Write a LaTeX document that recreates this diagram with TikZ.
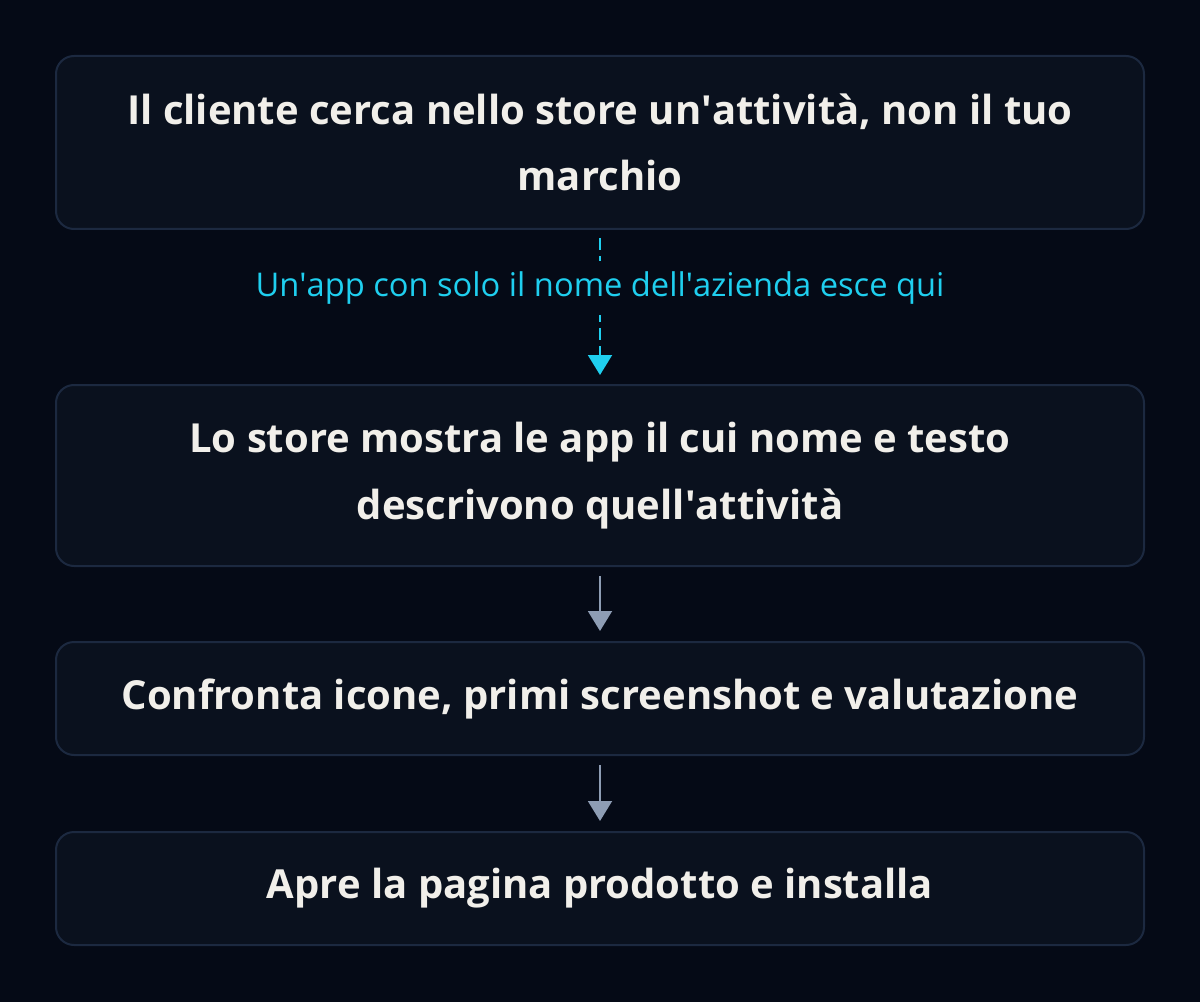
\documentclass[tikz,border=0pt]{standalone}
\usepackage{fontspec}
\setmainfont{Open Sans}
\usetikzlibrary{arrows.meta}
\definecolor{bgcol}{HTML}{050A16}
\definecolor{boxfill}{HTML}{0A111E}
\definecolor{boxline}{HTML}{1C2940}
\definecolor{txtcol}{HTML}{F1EFEA}
\definecolor{cyancol}{HTML}{1FCFEF}
\definecolor{graycol}{HTML}{8E9DB4}
\newcommand{\apos}{\textquotesingle}
\tikzset{
  stepbox/.style={draw=boxline, line width=1.5pt, fill=boxfill, rounded corners=13.5pt,
    minimum width=816pt, align=center, text=txtcol, font=\fontsize{30}{50}\selectfont\bfseries},
  flow/.style={draw=graycol, line width=1.5pt, -{Triangle[width=18pt, length=15pt]}},
  warn/.style={draw=cyancol, line width=1.5pt, dash pattern=on 9pt off 4.5pt, -{Triangle[width=18pt, length=15pt]}}
}
\begin{document}
\begin{tikzpicture}[x=0.75pt, y=-0.75pt]
      \fill[bgcol] (0,0) rectangle (1200,1002);
      \useasboundingbox (0,0) rectangle (1200,1002);

      \node[stepbox, minimum height=129.75pt] (search) at (600,142.5) {Il cliente cerca nello store un\apos attività, non il tuo\\marchio};
      \node[stepbox, minimum height=135.75pt] (results) at (600,475.5) {Lo store mostra le app il cui nome e testo\\descrivono quell\apos attività};
      \node[stepbox, minimum height=84.75pt] (compare) at (600,698.5) {Confronta icone, primi screenshot e valutazione};
      \node[stepbox, minimum height=84.75pt] (install) at (600,888.5) {Apre la pagina prodotto e installa};

      \draw[warn, shorten <=6pt, shorten >=6.75pt] (search) -- (results);
      \node[fill=bgcol, text=cyancol, inner sep=0pt, minimum height=41pt, font=\fontsize{24.5}{28}\selectfont] (note) at (600,288) {Un\apos app con solo il nome dell\apos azienda esce qui};

      \draw[flow, shorten <=6.75pt, shorten >=7.5pt] (results) -- (compare);
      \draw[flow, shorten <=6.75pt, shorten >=7.5pt] (compare) -- (install);
\end{tikzpicture}
\end{document}
